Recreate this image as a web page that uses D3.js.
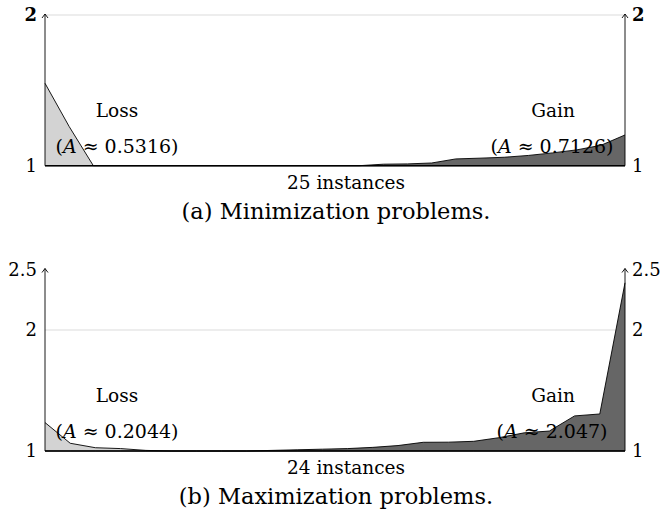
<!DOCTYPE html>
<html>
<head>
<meta charset="utf-8">
<script src="https://cdn.jsdelivr.net/npm/d3@7"></script>
<style>
  body { margin: 0; background: #fff; }
  svg text { font-family: "DejaVu Serif", serif; fill: #000; }
</style>
</head>
<body>
<svg id="chart" width="661" height="514"></svg>
<script>
// (a) minimization, 25 instances (ratio values, 1 = no change)
var minLoss = [1.547, 1.26, 1, 1, 1, 1, 1, 1, 1, 1, 1, 1, 1, 1, 1, 1, 1, 1, 1, 1, 1, 1, 1, 1, 1];
var minGain = [1, 1, 1, 1, 1, 1, 1, 1, 1, 1, 1, 1, 1, 1, 1.01, 1.012, 1.018, 1.045, 1.05, 1.056, 1.068, 1.085, 1.105, 1.135, 1.204];
var minTicks = [1, 2];
var minArea = ['0.5316', '0.7126'];

// (b) maximization, 24 instances
var maxLoss = [1.235, 1.064, 1.027, 1.02, 1.005, 1, 1, 1, 1, 1, 1, 1, 1, 1, 1, 1, 1, 1, 1, 1, 1, 1, 1, 1];
var maxGain = [1, 1, 1, 1, 1, 1, 1, 1, 1, 1.005, 1.01, 1.015, 1.02, 1.03, 1.045, 1.072, 1.073, 1.08, 1.11, 1.15, 1.165, 1.29, 1.306, 2.39];
var maxTicks = [1, 2, 2.5];
var maxArea = ['0.2044', '2.047'];

var svg = d3.select('#chart');

function drawPanel(opt) {
    var n = opt.loss.length;
    var x = d3.scaleLinear().domain([0, n - 1]).range([45, 625]);
    var y = d3.scaleLinear().domain([1, opt.top]).range([opt.y0, opt.y1]);
    var g = svg.append('g');

    // light grid line at 2
    g.append('line')
        .attr('x1', x(0)).attr('x2', x(n - 1))
        .attr('y1', y(2)).attr('y2', y(2))
        .style('stroke', '#dcdcdc').style('stroke-width', 1.2);

    var area = d3.area().x(function(d, i) { return x(i); }).y0(y(1)).y1(function(d) { return y(d); });
    var line = d3.line().x(function(d, i) { return x(i); }).y(function(d) { return y(d); });

    g.append('path').attr('d', area(opt.loss)).style('fill', '#d3d3d3');
    g.append('path').attr('d', area(opt.gain)).style('fill', '#666666');
    g.append('path').attr('d', line(opt.loss)).style('fill', 'none').style('stroke', '#000').style('stroke-width', 0.9);
    g.append('path').attr('d', line(opt.gain)).style('fill', 'none').style('stroke', '#000').style('stroke-width', 0.9);
    // base line
    g.append('line')
        .attr('x1', x(0)).attr('x2', x(n - 1))
        .attr('y1', y(1)).attr('y2', y(1))
        .style('stroke', '#000').style('stroke-width', 1.5);

    // both vertical axes with arrows
    [x(0), x(n - 1)].forEach(function(ax) {
        var tip = y(opt.top) - 1;
        g.append('line')
            .attr('x1', ax).attr('x2', ax)
            .attr('y1', y(1)).attr('y2', tip)
            .style('stroke', '#000').style('stroke-width', 0.9);
        g.append('path')
            .attr('d', 'M' + (ax - 3) + ',' + (tip + 4) + 'L' + ax + ',' + tip + 'L' + (ax + 3) + ',' + (tip + 4))
            .style('fill', 'none').style('stroke', '#000').style('stroke-width', 0.9);
    });

    opt.ticks.forEach(function(t) {
        var bold = opt.boldTop && t === opt.top;
        g.append('text').attr('x', 37).attr('y', y(t)).attr('dy', '0.36em')
            .attr('text-anchor', 'end').style('font-size', '18px')
            .style('font-weight', bold ? 'bold' : 'normal').text(t);
        g.append('text').attr('x', 632).attr('y', y(t)).attr('dy', '0.36em')
            .attr('text-anchor', 'start').style('font-size', '18px')
            .style('font-weight', bold ? 'bold' : 'normal').text(t);
    });

    // Loss / Gain labels
    [['Loss', 117, 117, opt.area[0]], ['Gain', 553, 552, opt.area[1]]].forEach(function(l) {
        g.append('text').attr('x', l[1]).attr('y', opt.labelY).attr('text-anchor', 'middle')
            .style('font-size', '18.5px').text(l[0]);
        var t = g.append('text').attr('x', l[2]).attr('y', opt.labelY + 36).attr('text-anchor', 'middle')
            .style('font-size', '19px');
        t.append('tspan').text('(');
        t.append('tspan').style('font-style', 'italic').text('A');
        t.append('tspan').text(' \u2248 ' + l[3] + ')');
    });

    g.append('text').attr('x', 346).attr('y', y(1) + 23).attr('text-anchor', 'middle')
        .style('font-size', '18.5px').text(n + ' instances');
    g.append('text').attr('x', 336).attr('y', y(1) + 53).attr('text-anchor', 'middle')
        .style('font-size', '22.5px').text(opt.caption);
}

drawPanel({loss: minLoss, gain: minGain, ticks: minTicks, area: minArea, top: 2,
    y0: 165.7, y1: 15, labelY: 117, boldTop: true, caption: '(a) Minimization problems.'});
drawPanel({loss: maxLoss, gain: maxGain, ticks: maxTicks, area: maxArea, top: 2.5,
    y0: 451, y1: 269.5, labelY: 402, boldTop: false, caption: '(b) Maximization problems.'});
</script>
</body>
</html>
